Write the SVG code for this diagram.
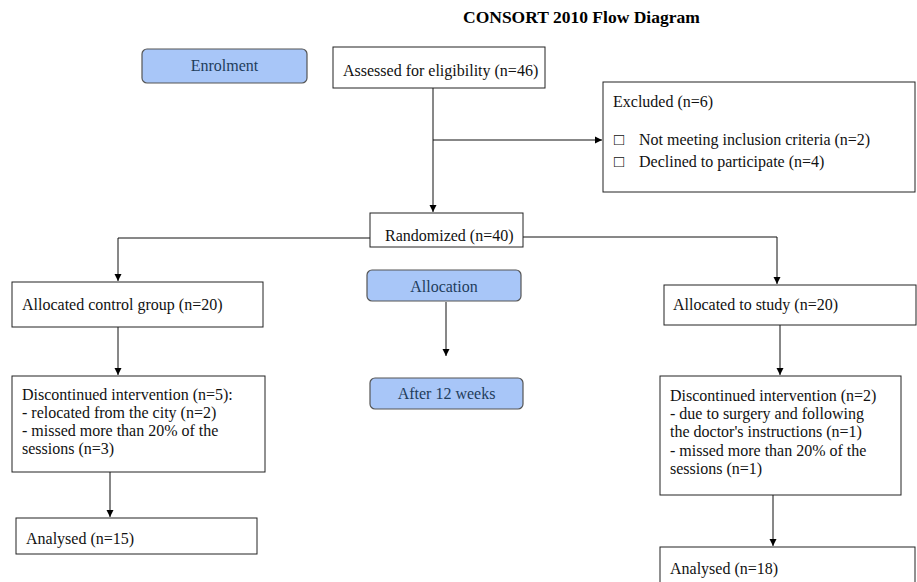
<svg xmlns="http://www.w3.org/2000/svg" width="917" height="582" viewBox="0 0 917 582">
<defs>
<marker id="ah" markerWidth="8" markerHeight="8" refX="7" refY="4" orient="auto" markerUnits="userSpaceOnUse">
<path d="M0,0.5 L7,4 L0,7.5 Z" fill="#000"/>
</marker>
<style>
.box{fill:#fff;stroke:#222;stroke-width:1}
.blue{fill:#a8c6f8;stroke:#555;stroke-width:1.2}
.t{font-family:"Liberation Serif","Times New Roman",serif;font-size:16px;fill:#111}
.bt{font-family:"Liberation Serif","Times New Roman",serif;font-size:16px;fill:#1f3d5c;text-anchor:middle}
.title{font-family:"Liberation Serif","Times New Roman",serif;font-size:17.5px;font-weight:bold;fill:#000}
.c{fill:none;stroke:#111;stroke-width:1}
</style>
</defs>
<rect width="917" height="582" fill="#fff"/>
<text class="title" x="463" y="23">CONSORT 2010 Flow Diagram</text>

<g id="connectors">
<path class="c" d="M433,88 V212" marker-end="url(#ah)"/>
<path class="c" d="M433,140 H602" marker-end="url(#ah)"/>
<path class="c" d="M370,238 H118 V281" marker-end="url(#ah)"/>
<path class="c" d="M523,237 H777 V284" marker-end="url(#ah)"/>
<path class="c" d="M446,302 V356" marker-end="url(#ah)"/>
<path class="c" d="M118,327 V375" marker-end="url(#ah)"/>
<path class="c" d="M110,472 V517" marker-end="url(#ah)"/>
<path class="c" d="M780,325 V375" marker-end="url(#ah)"/>
<path class="c" d="M773,495 V546" marker-end="url(#ah)"/>
</g>

<g id="enrolment">
<rect class="blue" x="142" y="49" width="165" height="34" rx="5"/>
<text class="bt" x="224.5" y="71">Enrolment</text>
</g>
<g id="assessed">
<rect class="box" x="333" y="47" width="212" height="41"/>
<text class="t" x="343" y="76">Assessed for eligibility (n=46)</text>
</g>
<g id="excluded">
<rect class="box" x="603" y="82" width="312" height="110"/>
<text class="t" x="613" y="107">Excluded (n=6)</text>
<text class="t" x="614" y="145"><tspan font-size="17">□</tspan><tspan x="639">Not meeting inclusion criteria (n=2)</tspan></text>
<text class="t" x="614" y="167"><tspan font-size="17">□</tspan><tspan x="639">Declined to participate (n=4)</tspan></text>
</g>
<g id="randomized">
<rect class="box" x="370" y="213" width="153" height="34"/>
<text class="t" x="385" y="241">Randomized (n=40)</text>
</g>
<g id="allocation">
<rect class="blue" x="367" y="270" width="154" height="31" rx="5"/>
<text class="bt" x="444" y="292">Allocation</text>
</g>
<g id="after12">
<rect class="blue" x="370" y="378" width="153" height="31" rx="5"/>
<text class="bt" x="446.5" y="399">After 12 weeks</text>
</g>
<g id="control">
<rect class="box" x="12" y="282" width="251" height="45"/>
<text class="t" x="22" y="310">Allocated control group (n=20)</text>
</g>
<g id="study">
<rect class="box" x="664" y="285" width="252" height="40"/>
<text class="t" x="673" y="310">Allocated to study (n=20)</text>
</g>
<g id="disc-control">
<rect class="box" x="12" y="376" width="253" height="96"/>
<text class="t" x="22" y="400">Discontinued intervention (n=5):</text>
<text class="t" x="22" y="418">- relocated from the city (n=2)</text>
<text class="t" x="22" y="436">- missed more than 20% of the</text>
<text class="t" x="22" y="454">sessions (n=3)</text>
</g>
<g id="disc-study">
<rect class="box" x="660" y="376" width="241" height="119"/>
<text class="t" x="670" y="401">Discontinued intervention (n=2)</text>
<text class="t" x="670" y="419">- due to surgery and following</text>
<text class="t" x="670" y="437">the doctor's instructions (n=1)</text>
<text class="t" x="670" y="456">- missed more than 20% of the</text>
<text class="t" x="670" y="474">sessions (n=1)</text>
</g>
<g id="analysed-control">
<rect class="box" x="16" y="518" width="241" height="36"/>
<text class="t" x="26" y="544">Analysed (n=15)</text>
</g>
<g id="analysed-study">
<rect class="box" x="660" y="547" width="255" height="40"/>
<text class="t" x="670" y="574">Analysed (n=18)</text>
</g>
</svg>
